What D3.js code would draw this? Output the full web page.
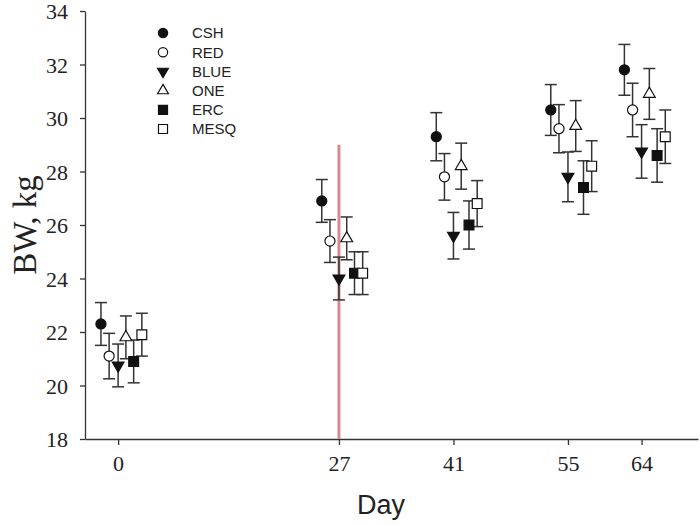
<!DOCTYPE html>
<html>
<head>
<meta charset="utf-8">
<script src="https://cdn.jsdelivr.net/npm/d3@7"></script>
<style>
  html, body { margin: 0; padding: 0; background: #fff; }
  svg { display: block; }
</style>
</head>
<body>
<svg id="chart" width="700" height="525"></svg>
<script>
// ---- data ----
const days = [0, 27, 41, 55, 64];
const seriesNames = ["CSH", "RED", "BLUE", "ONE", "ERC", "MESQ"];
const CSH      = [22.3, 26.9, 29.3, 30.3, 31.8];
const CSH_err  = [0.8, 0.8, 0.9, 0.95, 0.95];
const RED      = [21.1, 25.4, 27.8, 29.6, 30.3];
const RED_err  = [0.85, 0.8, 0.87, 0.9, 1.0];
const BLUE     = [20.75, 24.0, 25.6, 27.8, 28.75];
const BLUE_err = [0.8, 0.8, 0.87, 0.93, 1.0];
const ONE      = [21.8, 25.5, 28.2, 29.7, 30.9];
const ONE_err  = [0.8, 0.8, 0.86, 0.95, 0.95];
const ERC      = [20.9, 24.2, 26.0, 27.4, 28.6];
const ERC_err  = [0.8, 0.8, 0.9, 1.0, 1.0];
const MESQ     = [21.9, 24.2, 26.8, 28.2, 29.3];
const MESQ_err = [0.8, 0.8, 0.86, 0.95, 1.0];
const yTicks = [18, 20, 22, 24, 26, 28, 30, 32, 34];
const refDay = 27;
const refTop = 29;

const seriesValues = { CSH, RED, BLUE, ONE, ERC, MESQ };
const seriesErrors = { CSH: CSH_err, RED: RED_err, BLUE: BLUE_err, ONE: ONE_err, ERC: ERC_err, MESQ: MESQ_err };

// ---- styling ----
const dayOffset = { CSH: -2.1, RED: -1.1, BLUE: 0, ONE: 0.95, ERC: 1.9, MESQ: 2.9 };
const markerStyle = {
  CSH:  { type: d3.symbolCircle,   size: 80,  fill: "#111", rotate: 0 },
  RED:  { type: d3.symbolCircle,   size: 80,  fill: "#fff", rotate: 0 },
  BLUE: { type: d3.symbolTriangle, size: 60,  fill: "#111", rotate: 180 },
  ONE:  { type: d3.symbolTriangle, size: 60,  fill: "#fff", rotate: 0 },
  ERC:  { type: d3.symbolSquare,   size: 96,  fill: "#111", rotate: 0 },
  MESQ: { type: d3.symbolSquare,   size: 96,  fill: "#fff", rotate: 0 }
};

const svg = d3.select("#chart");
const plotLeft = 85, plotRight = 698, plotTop = 11, plotBottom = 439;

const x = d3.scaleLinear().domain([-4.05, 70.9]).range([plotLeft, plotRight]);
const y = d3.scaleLinear().domain([18, 34]).range([plotBottom, plotTop]);

// axes
const yAxis = svg.append("g")
  .attr("transform", `translate(${plotLeft},0)`)
  .call(d3.axisLeft(y).tickValues(yTicks).tickSize(5).tickSizeOuter(0).tickPadding(12));
yAxis.selectAll("text")
  .attr("font-family", "'Liberation Serif', 'Times New Roman', serif")
  .attr("font-size", 22).attr("fill", "#222").attr("dy", "0.35em");

const xAxis = svg.append("g")
  .attr("transform", `translate(0,${plotBottom})`)
  .call(d3.axisBottom(x).tickValues(days).tickSize(6).tickSizeOuter(0).tickPadding(10).tickFormat(d3.format("d")));
xAxis.selectAll("text")
  .attr("font-family", "'Liberation Serif', 'Times New Roman', serif")
  .attr("font-size", 22).attr("fill", "#222");

svg.selectAll(".domain, .tick line").attr("stroke", "#333").attr("stroke-width", 1.3);

// axis titles
svg.append("text")
  .attr("transform", "translate(36,225) rotate(-90)")
  .attr("text-anchor", "middle")
  .attr("font-family", "'Liberation Serif', 'Times New Roman', serif")
  .attr("font-size", 33).attr("fill", "#222")
  .text("BW, kg");

svg.append("text")
  .attr("x", 381).attr("y", 514)
  .attr("text-anchor", "middle")
  .attr("font-family", "'Liberation Sans', Arial, sans-serif")
  .attr("font-size", 27).attr("fill", "#222")
  .text("Day");

// reference line
svg.append("line")
  .attr("x1", x(refDay)).attr("x2", x(refDay))
  .attr("y1", y(refTop)).attr("y2", y(18))
  .attr("stroke", "#d98a8c").attr("stroke-width", 3);

// error bars + markers
const capHalf = 6;
seriesNames.forEach(name => {
  const vals = seriesValues[name], errs = seriesErrors[name];
  const g = svg.append("g").attr("class", "series-" + name);
  days.forEach((d, i) => {
    const cx = x(d + dayOffset[name]);
    const hi = y(vals[i] + errs[i]), lo = y(vals[i] - errs[i]);
    g.append("line").attr("x1", cx).attr("x2", cx).attr("y1", hi).attr("y2", lo)
      .attr("stroke", "#333").attr("stroke-width", 1.5);
    g.append("line").attr("x1", cx - capHalf).attr("x2", cx + capHalf).attr("y1", hi).attr("y2", hi)
      .attr("stroke", "#333").attr("stroke-width", 1.5);
    g.append("line").attr("x1", cx - capHalf).attr("x2", cx + capHalf).attr("y1", lo).attr("y2", lo)
      .attr("stroke", "#333").attr("stroke-width", 1.5);
  });
});
seriesNames.forEach(name => {
  const vals = seriesValues[name];
  const st = markerStyle[name];
  const sym = d3.symbol().type(st.type).size(st.size);
  svg.append("g").selectAll("path").data(days).join("path")
    .attr("d", sym)
    .attr("transform", (d, i) => `translate(${x(d + dayOffset[name])},${y(vals[i])}) rotate(${st.rotate})`)
    .attr("fill", st.fill).attr("stroke", "#111").attr("stroke-width", 1.2);
});

// legend
const legend = svg.append("g").attr("transform", "translate(163,33)");
seriesNames.forEach((name, i) => {
  const st = markerStyle[name];
  const sym = d3.symbol().type(st.type).size(st.size * 0.85);
  const row = legend.append("g").attr("transform", `translate(0,${i * 19.2})`);
  row.append("path").attr("d", sym)
    .attr("transform", `rotate(${st.rotate})`)
    .attr("fill", st.fill).attr("stroke", "#111").attr("stroke-width", 1.2);
  row.append("text").attr("x", 29).attr("y", 0).attr("dy", "0.36em")
    .attr("font-family", "'Liberation Sans', Arial, sans-serif")
    .attr("font-size", 15).attr("fill", "#222")
    .text(name);
});
</script>
</body>
</html>
